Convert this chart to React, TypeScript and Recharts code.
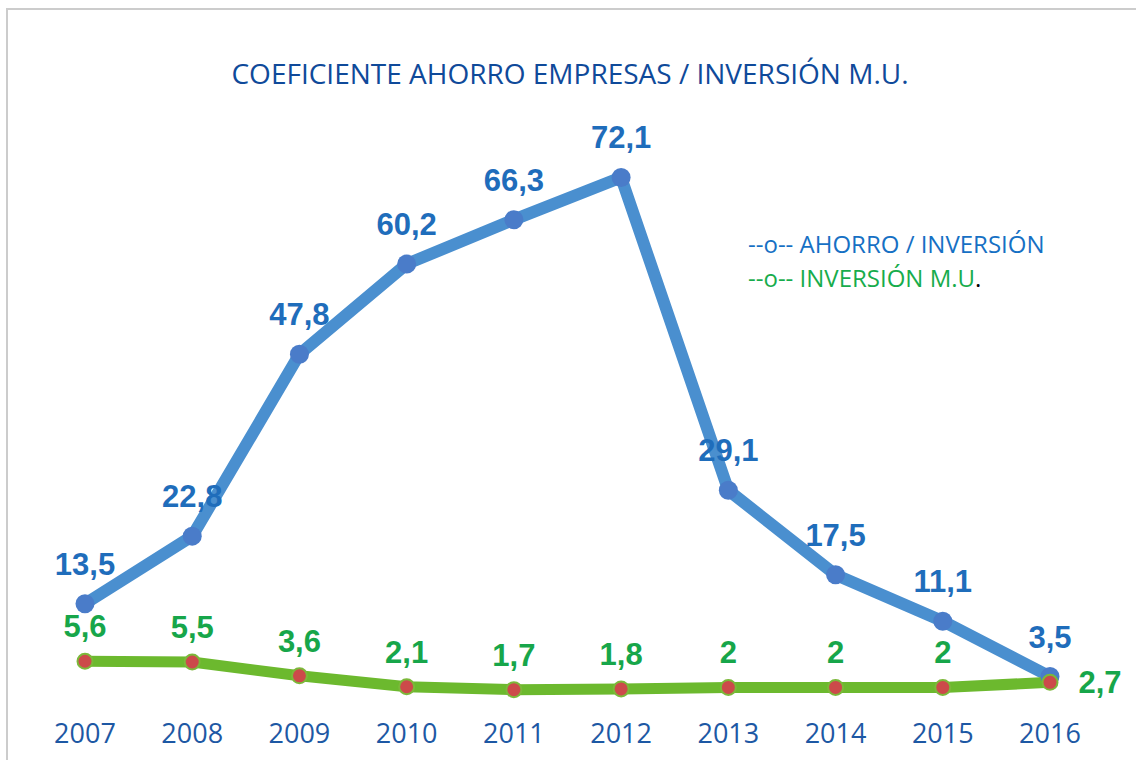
import React from 'react';
import { LineChart, Line, XAxis, YAxis } from 'recharts';

const years = ['2007', '2008', '2009', '2010', '2011', '2012', '2013', '2014', '2015', '2016'];
const ahorroInversion = [13.5, 22.8, 47.8, 60.2, 66.3, 72.1, 29.1, 17.5, 11.1, 3.5];
const inversionMU = [5.6, 5.5, 3.6, 2.1, 1.7, 1.8, 2, 2, 2, 2.7];

const data = years.map((year, i) => ({
  year,
  ahorro: ahorroInversion[i],
  inversion: inversionMU[i],
}));

const BLUE_LINE = '#4a8fcf';
const BLUE_DOT = '#4a7cc9';
const BLUE_TEXT = '#1f6dbb';
const GREEN_LINE = '#6cb92e';
const GREEN_TEXT = '#17a64a';
const RED_DOT = '#cc4a4a';

const fmt = (v: number) => String(v).replace('.', ',');

const labelFont = '"Liberation Sans", Arial, sans-serif';

function BlueLabel(props: any) {
  const { x, y, value } = props;
  return (
    <text x={x} y={y - 29} textAnchor="middle" fill={BLUE_TEXT} fontFamily={labelFont} fontWeight="bold" fontSize={31}>
      {fmt(value)}
    </text>
  );
}

function GreenLabel(props: any) {
  const { x, y, value, index } = props;
  if (index === years.length - 1) {
    return (
      <text x={x + 50} y={y + 11} textAnchor="middle" fill={GREEN_TEXT} fontFamily={labelFont} fontWeight="bold" fontSize={31}>
        {fmt(value)}
      </text>
    );
  }
  return (
    <text x={x} y={y - 24} textAnchor="middle" fill={GREEN_TEXT} fontFamily={labelFont} fontWeight="bold" fontSize={31}>
      {fmt(value)}
    </text>
  );
}

function YearTick(props: any) {
  const { x, y, payload } = props;
  return (
    <text x={x} y={y + 33} textAnchor="middle" fill="#1d58a4" fontFamily='"Open Sans", sans-serif' fontSize={27}>
      {payload.value}
    </text>
  );
}

export default function App() {
  return (
    <div style={{ position: 'fixed', left: 0, top: 0, width: 1136, height: 760, overflow: 'hidden', background: '#fff' }}>
      <div style={{ position: 'absolute', left: 6, top: 8, width: 1130, height: 2, background: '#cccccc' }} />
      <div style={{ position: 'absolute', left: 6, top: 8, width: 2, height: 752, background: '#cccccc' }} />
      <div style={{ position: 'absolute', left: 0, width: 1140, top: 54, textAlign: 'center', fontFamily: '"Open Sans", sans-serif', fontSize: 28, color: '#0f4a9a' }}>
        COEFICIENTE AHORRO EMPRESAS / INVERSIÓN M.U.
      </div>
      <div style={{ position: 'absolute', left: 748, top: 227, fontFamily: '"Open Sans", sans-serif', fontSize: 24, lineHeight: '34px' }}>
        <div style={{ color: '#1670c4' }}>--o-- AHORRO / INVERSIÓN</div>
        <div style={{ color: '#17ac4c' }}>
          --o-- INVERSIÓN M.U<span style={{ color: '#000' }}>.</span>
        </div>
      </div>
      <div style={{ position: 'absolute', left: 0, top: 0 }}>
        <LineChart width={1136} height={760} data={data} margin={{ top: 120, right: 86, bottom: 18, left: 85 }}>
          <XAxis dataKey="year" axisLine={false} tickLine={false} tick={<YearTick />} height={40} interval={0} />
          <YAxis hide domain={[0, 80]} />
          <Line
            type="linear"
            dataKey="ahorro"
            stroke={BLUE_LINE}
            strokeWidth={12}
            dot={{ r: 9.5, fill: BLUE_DOT, stroke: 'none' }}
            activeDot={false}
            label={<BlueLabel />}
            isAnimationActive={false}
          />
          <Line
            type="linear"
            dataKey="inversion"
            stroke={GREEN_LINE}
            strokeWidth={11}
            dot={{ r: 7.5, fill: RED_DOT, stroke: '#7cb83a', strokeWidth: 2 }}
            activeDot={false}
            label={<GreenLabel />}
            isAnimationActive={false}
          />
        </LineChart>
      </div>
    </div>
  );
}
